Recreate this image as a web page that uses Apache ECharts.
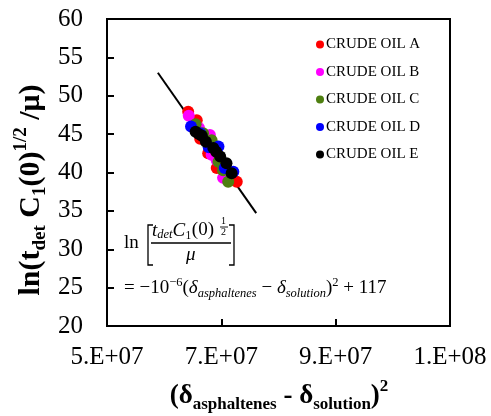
<!DOCTYPE html>
<html><head><meta charset="utf-8">
<script src="https://cdn.jsdelivr.net/npm/echarts@6/dist/echarts.min.js"></script>
<style>html,body{margin:0;padding:0;background:#fff}#c{width:491px;height:416px}</style>
</head><body><div id="c"></div>
<script>
var seriesNames = ['CRUDE OIL A','CRUDE OIL B','CRUDE OIL C','CRUDE OIL D','CRUDE OIL E'];
var seriesColors = ['#FF0000','#FF00FF','#4E7F10','#0000FF','#000000'];
var oilA = [[6.42e7,47.9],[6.57e7,46.8],[6.63e7,44.4],[6.77e7,42.5],[6.92e7,40.6],[7.06e7,40.3],[7.27e7,38.8]];
var oilB = [[6.43e7,47.4],[6.61e7,45.8],[6.80e7,44.9],[6.83e7,42.3],[6.92e7,41.6],[7.03e7,39.3]];
var oilC = [[6.55e7,46.3],[6.68e7,45.1],[6.83e7,44.2],[6.95e7,41.4],[7.03e7,40.3],[7.12e7,38.8]];
var oilD = [[6.47e7,46.0],[6.63e7,45.1],[6.78e7,43.3],[6.95e7,43.4],[7.06e7,40.6],[7.21e7,40.1]];
var oilE = [[6.55e7,45.3],[6.61e7,45.0],[6.66e7,44.8],[6.73e7,44.0],[6.86e7,43.2],[6.91e7,42.7],[6.98e7,42.1],[7.09e7,41.2],[7.18e7,39.9]];
var fitLine = [[5.89e7,53.0],[7.61e7,34.7]];
var xTicks = [5e7,7e7,9e7,1.1e8];
var xTickLabels = ['5.E+07','7.E+07','9.E+07','1.E+08'];
var yTicks = [20,25,30,35,40,45,50,55,60];

var allData = [oilA,oilB,oilC,oilD,oilE];
var chart = echarts.init(document.getElementById('c'));
var serif = 'Liberation Serif';
var series = allData.map(function(d,i){
  return {name:seriesNames[i],type:'scatter',data:d,symbol:'circle',symbolSize:12,
    itemStyle:{color:seriesColors[i],opacity:1},z:3+i};
});
series.push({type:'line',data:fitLine,symbol:'none',lineStyle:{color:'#000',width:2},z:2,silent:true});

function mkRich(f, s){
  return {
    b:{fontFamily:serif,fontWeight:'bold',fontSize:f,color:'#000',lineHeight:f+8,verticalAlign:'middle'},
    bs:{fontFamily:serif,fontWeight:'bold',fontSize:s,color:'#000',lineHeight:f+8,verticalAlign:'bottom'},
    bp:{fontFamily:serif,fontWeight:'bold',fontSize:s,color:'#000',lineHeight:f+8,verticalAlign:'top'}
  };
}
var mathFont = 'Liberation Serif';
var fs = 19, ss = 12.5;
chart.setOption({
  animation:false,
  backgroundColor:'#fff',
  grid:{left:107,right:41,top:19,bottom:90,show:true,borderColor:'#000',borderWidth:2,containLabel:false,outerBoundsMode:'none'},
  legend:{orient:'vertical',left:311,top:32,itemWidth:8,itemHeight:8,itemGap:12.5,icon:'circle',
    data:seriesNames,textStyle:{fontFamily:serif,fontSize:15,color:'#000',padding:[0,0,0,-3]}},
  xAxis:{type:'value',min:xTicks[0],max:xTicks[xTicks.length-1],interval:2e7,
    axisLine:{show:true,lineStyle:{color:'#000',width:2}},
    axisTick:{show:true,inside:true,length:7,lineStyle:{color:'#000',width:2}},
    splitLine:{show:false},
    axisLabel:{fontFamily:serif,fontSize:25,color:'#000',margin:19,
      formatter:function(v){var i=xTicks.indexOf(v);return i>=0?xTickLabels[i]:'';}}
  },
  yAxis:{type:'value',min:yTicks[0],max:yTicks[yTicks.length-1],interval:5,
    axisLine:{show:true,lineStyle:{color:'#000',width:2}},
    axisTick:{show:true,inside:true,length:7,lineStyle:{color:'#000',width:2}},
    splitLine:{show:false},
    axisLabel:{fontFamily:serif,fontSize:25,color:'#000',margin:24}
  },
  graphic:[
    {type:'text',x:279,y:396,style:{text:'{b|(δ}{bs|asphaltenes}{b| - δ}{bs|solution}{b|)}{bp|2}',
      align:'center',verticalAlign:'middle',rich:mkRich(27,17)}},
    {type:'text',x:31,y:190,rotation:Math.PI/2,style:{text:'{b|ln(t}{bs|det}{b| C}{bs|1}{b|(0)}{bp|1/2}{b| /μ)}',
      align:'center',verticalAlign:'middle',rich:mkRich(30,19)}},
    {type:'text',left:124,top:234,style:{text:'ln',fontFamily:mathFont,fontSize:fs,fill:'#000'}},
    {type:'polyline',shape:{points:[[153,225],[148,225],[148,265],[153,265]]},style:{stroke:'#000',lineWidth:1.3,fill:null}},
    {type:'polyline',shape:{points:[[229,225],[234,225],[234,265],[229,265]]},style:{stroke:'#000',lineWidth:1.3,fill:null}},
    {type:'line',shape:{x1:151,y1:243,x2:231,y2:243},style:{stroke:'#000',lineWidth:1.3}},
    {type:'text',left:152,top:221,style:{text:'{i|t}{s|det}{i|C}{n|₁}{u|(0)}',fontFamily:mathFont,fontSize:fs,fill:'#000',
      rich:{i:{fontFamily:mathFont,fontStyle:'italic',fontSize:fs,lineHeight:22,verticalAlign:'middle'},
            s:{fontFamily:mathFont,fontStyle:'italic',fontSize:ss,lineHeight:22,verticalAlign:'bottom'},
            n:{fontFamily:mathFont,fontSize:fs,lineHeight:22,verticalAlign:'middle'},
            u:{fontFamily:mathFont,fontSize:fs,lineHeight:22,verticalAlign:'middle'}}}},
    {type:'text',left:221,top:216,style:{text:'1',fontFamily:mathFont,fontSize:10,fill:'#000'}},
    {type:'line',shape:{x1:220,y1:227,x2:228,y2:227},style:{stroke:'#000',lineWidth:0.9}},
    {type:'text',left:221,top:227,style:{text:'2',fontFamily:mathFont,fontSize:10,fill:'#000'}},
    {type:'text',left:186,top:245,style:{text:'μ',fontFamily:mathFont,fontStyle:'italic',fontSize:fs,fill:'#000'}},
    {type:'text',left:124,top:276,style:{text:'{n|= −10}{p|−6}{n|(}{i|δ}{s|asphaltenes}{n| − }{i|δ}{s|solution}{n|)}{p|2}{n| + 117}',
      rich:{i:{fontFamily:mathFont,fontStyle:'italic',fontSize:fs,lineHeight:24,verticalAlign:'middle'},
            s:{fontFamily:mathFont,fontStyle:'italic',fontSize:ss,lineHeight:24,verticalAlign:'bottom'},
            p:{fontFamily:mathFont,fontSize:ss,lineHeight:24,verticalAlign:'top'},
            n:{fontFamily:mathFont,fontSize:fs,lineHeight:24,verticalAlign:'middle'}}}}
  ],
  series:series
});
</script></body></html>
